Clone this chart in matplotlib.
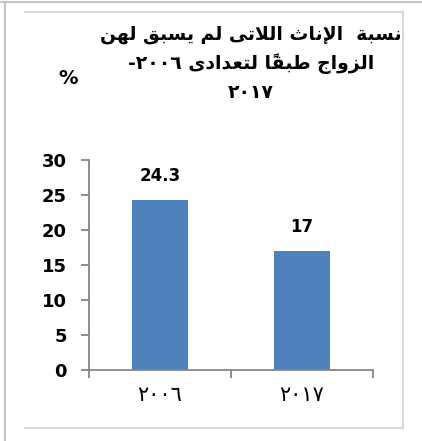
import matplotlib
matplotlib.use("Agg")
import matplotlib.pyplot as plt
from matplotlib.lines import Line2D

# data
years = ["٢٠٠٦", "٢٠١٧"]
values = [24.3, 17]
value_labels = ["24.3", "17"]
y_ticks = [0, 5, 10, 15, 20, 25, 30]
title_lines = ["نسبة  الإناث اللاتى لم يسبق لهن", "الزواج طبقاً لتعدادى ٢٠٠٦-", "٢٠١٧"]
unit_label = "%"

# arabic shaping (matplotlib has no shaping / bidi)
FORMS = {
    "ا": (0xFE8D, 0xFE8E), "إ": (0xFE87, 0xFE88), "د": (0xFEA9, 0xFEAA),
    "ز": (0xFEAF, 0xFEB0), "و": (0xFEED, 0xFEEE), "ى": (0xFEEF, 0xFEF0),
    "ة": (0xFE93, 0xFE94),
    "ب": (0xFE8F, 0xFE90, 0xFE91, 0xFE92), "ت": (0xFE95, 0xFE96, 0xFE97, 0xFE98),
    "ث": (0xFE99, 0xFE9A, 0xFE9B, 0xFE9C), "ج": (0xFE9D, 0xFE9E, 0xFE9F, 0xFEA0),
    "س": (0xFEB1, 0xFEB2, 0xFEB3, 0xFEB4), "ط": (0xFEC1, 0xFEC2, 0xFEC3, 0xFEC4),
    "ع": (0xFEC9, 0xFECA, 0xFECB, 0xFECC), "ق": (0xFED5, 0xFED6, 0xFED7, 0xFED8),
    "ل": (0xFEDD, 0xFEDE, 0xFEDF, 0xFEE0), "م": (0xFEE1, 0xFEE2, 0xFEE3, 0xFEE4),
    "ن": (0xFEE5, 0xFEE6, 0xFEE7, 0xFEE8), "ه": (0xFEE9, 0xFEEA, 0xFEEB, 0xFEEC),
    "ي": (0xFEF1, 0xFEF2, 0xFEF3, 0xFEF4),
    "لا": (0xFEFB, 0xFEFC), "لإ": (0xFEF9, 0xFEFA),
}
MARKS = "\u064B\u064C\u064D\u064E\u064F\u0650\u0651\u0652"


def shape(text):
    # clusters: [base, marks]
    units = []
    i = 0
    while i < len(text):
        c = text[i]
        if c in MARKS and units:
            units[-1][1] += c
        elif c == "ل" and i + 1 < len(text) and text[i:i + 2] in FORMS:
            units.append([text[i:i + 2], ""])
            i += 1
        else:
            units.append([c, ""])
        i += 1
    out = []
    for k, (b, m) in enumerate(units):
        if b not in FORMS:
            out.append([b, m])
            continue
        prev = units[k - 1][0] if k > 0 else None
        nxt = units[k + 1][0] if k + 1 < len(units) else None
        jp = prev in FORMS and len(FORMS[prev]) == 4
        jn = nxt in FORMS and len(FORMS[b]) == 4
        f = FORMS[b]
        if jp and jn:
            g = f[3]
        elif jp:
            g = f[1]
        elif jn:
            g = f[2]
        else:
            g = f[0]
        out.append([chr(g), m])
    # visual order, digit runs stay left to right
    runs = []
    for b, m in out:
        isdig = b.isdigit()
        if runs and runs[-1][0] and isdig:
            runs[-1][1].append(b + m)
        else:
            runs.append([isdig, [b + m]])
    runs.reverse()
    s = ""
    for isdig, items in runs:
        s += "".join(items if isdig else items[::-1])
    return s


W, H = 422, 441
fig = plt.figure(figsize=(W / 100, H / 100), dpi=100)

# frames
def px(x, y):
    return x / W, 1 - y / H

frame_col = "#c6c6c6"
box_col = "#d9d9d9"
for (x0, y0), (x1, y1), col in [((0, 2), (422, 2), frame_col), ((5, 2), (5, 441), frame_col),
                                ((25, 12), (403, 12), box_col), ((403, 12), (403, 428), box_col),
                                ((25, 428), (403, 428), box_col)]:
    a, b = px(x0, y0)
    c, d = px(x1, y1)
    fig.add_artist(Line2D([a, c], [b, d], color=col, lw=1.5, transform=fig.transFigure))

ax = fig.add_axes([89 / W, 1 - 370 / H, 284 / W, 210 / H])
x = [0, 1]
bars = ax.bar(x, values, width=0.4, color="#4f81bd")
ax.set_xlim(-0.5, 1.5)
ax.set_ylim(0, 30)

for sp in ["top", "right"]:
    ax.spines[sp].set_visible(False)
for sp in ["left", "bottom"]:
    ax.spines[sp].set_color("#868686")
    ax.spines[sp].set_linewidth(1.3)

ax.set_yticks(y_ticks)
ax.set_yticklabels([str(t) for t in y_ticks], fontsize=13, fontweight="bold", family="DejaVu Sans")
ax.tick_params(axis="y", direction="out", length=6, width=1.3, color="#868686", pad=10)

ax.set_xticks(x)
ax.set_xticklabels(years, fontsize=15, family="DejaVu Sans")
ax.set_xticks([-0.5, 0.5, 1.5], minor=True)
ax.tick_params(axis="x", which="major", length=0, pad=11)
ax.tick_params(axis="x", which="minor", direction="out", length=6, width=1.3, color="#868686")

for xi, v, lab in zip(x, values, value_labels):
    ax.annotate(lab, (xi, v), xytext=(0, 17), textcoords="offset points",
                ha="center", va="center", fontsize=12, fontweight="bold")

ty = [35, 64, 93]
for line, yy in zip(title_lines, ty):
    fig.text(251 / W, 1 - yy / H, shape(line), ha="center", va="center",
             fontsize=13.5, fontweight="bold", family="DejaVu Sans")
fig.text(68 / W, 1 - 78 / H, unit_label, ha="center", va="center", fontsize=14, fontweight="bold")

fig.savefig("out.png", dpi=100)
